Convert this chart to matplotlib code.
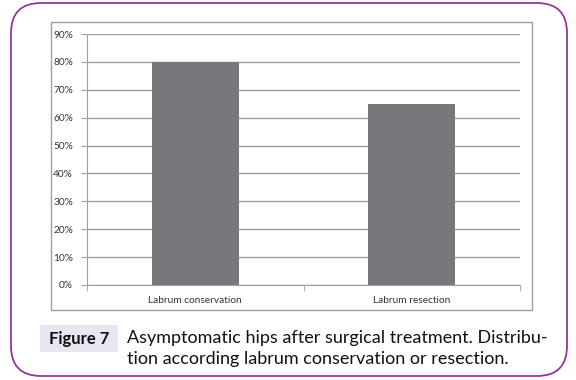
import matplotlib.pyplot as plt
from matplotlib.patches import FancyBboxPatch, Rectangle
from matplotlib.ticker import PercentFormatter

categories = ["Labrum conservation", "Labrum resection"]
values = [0.80, 0.65]
yticks = [0, 0.1, 0.2, 0.3, 0.4, 0.5, 0.6, 0.7, 0.8, 0.9]

caption_label = "Figure 7"
caption_lines = ["Asymptomatic hips after surgical treatment. Distribu-",
                 "tion according labrum conservation or resection."]

W, H = 576, 380
fig = plt.figure(figsize=(W / 100, H / 100), dpi=100)
plt.rcParams['font.family'] = ['Lato', 'DejaVu Sans']

# background layer in pixel coordinates
bg = fig.add_axes([0, 0, 1, 1])
bg.set_xlim(0, W)
bg.set_ylim(H, 0)
bg.axis('off')

frame = FancyBboxPatch((11, 3), 556, 373, boxstyle="round,pad=0,rounding_size=30",
                       facecolor='white', edgecolor='#93389A', linewidth=1.3)
bg.add_patch(frame)
bg.add_patch(Rectangle((51, 22), 481, 288, facecolor='none', edgecolor='#A0A0A0', linewidth=1))

bg.add_patch(Rectangle((40, 325), 78, 27, facecolor='#E9E5F1', edgecolor='none'))
bg.text(79, 339, caption_label, fontsize=12, fontweight='bold', ha='center', va='center', color='#111111')
bg.text(127, 338, caption_lines[0], fontsize=13, ha='left', va='center', color='#111111')
bg.text(127, 359, caption_lines[1], fontsize=13, ha='left', va='center', color='#111111')

# chart
ax = fig.add_axes([87 / W, (H - 285) / H, (520 - 87) / W, (285 - 34) / H])
x = range(len(categories))
ax.bar(x, values, width=0.4, color='#78787C', zorder=3)
ax.set_xlim(-0.5, len(categories) - 0.5)
ax.set_ylim(0, 0.9)
ax.set_yticks(yticks)
ax.yaxis.set_major_formatter(PercentFormatter(1.0, decimals=0))
ax.grid(axis='y', color='#A0A0A0', linewidth=1, zorder=0)
ax.set_xticks(list(x))
ax.set_xticklabels(categories)
ax.set_xticks([i - 0.5 for i in range(len(categories) + 1)], minor=True)
ax.tick_params(axis='x', which='major', length=0, labelsize=7.3, pad=8, colors='#333333')
ax.tick_params(axis='x', which='minor', length=4, color='#A0A0A0', direction='out')
ax.tick_params(axis='y', length=4, color='#A0A0A0', labelsize=7.3, pad=6, labelcolor='#333333')
for s in ['top', 'right']:
    ax.spines[s].set_visible(False)
for s in ['left', 'bottom']:
    ax.spines[s].set_color('#A0A0A0')
ax.set_facecolor('none')

fig.savefig('out.png', dpi=100)
